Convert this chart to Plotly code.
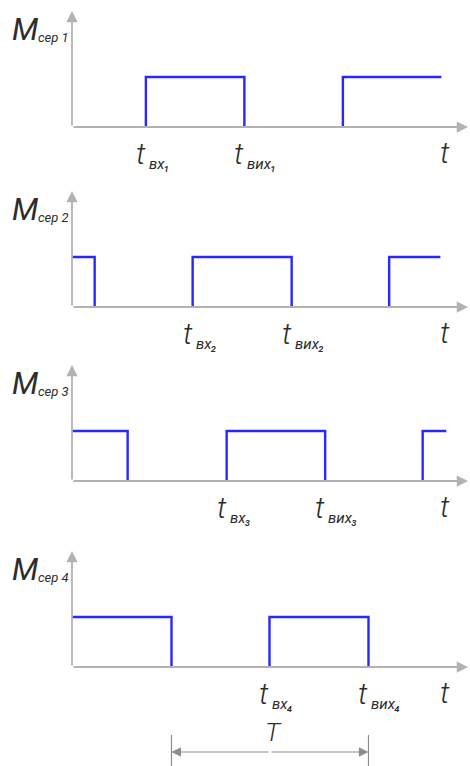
import plotly.graph_objects as go

# Time is measured in units where one period T equals 4.
# Switching instants of the four motor-torque traces M_сер,i(t).
rise_1 = [1.5, 5.5]
fall_1 = [3.5]
end_1 = 7.5

rise_2 = [2.45, 6.44]
fall_2 = [0.46, 4.46]
end_2 = 7.48

rise_3 = [3.14, 7.12]
fall_3 = [1.13, 5.14]
end_3 = 7.6

rise_4 = [4.01]
fall_4 = [2.02, 6.02]
end_4 = 7.6

channel_names = ["1", "2", "3", "4"]
in_label = "вх"      # t_вх  - switch-on instant
out_label = "вих"    # t_вих - switch-off instant
sub_digits = ["₁", "₂", "₃", "₄"]
time_label = "t"
period_label = "T"

# ---- page geometry (pixels) ----
W, H = 470, 766
X0_PX = 72.0            # where t = 0 sits
PX_PER_UNIT = 49.25     # horizontal scale
PX_PER_LEVEL = 50.0     # height of a pulse
baseline_px = [127, 307, 481, 667]
bands_px = [(0, 185), (185, 360), (360, 540), (540, H)]

AXIS_TIP_T = (W - 2 - X0_PX) / PX_PER_UNIT
AXIS_TIP_LEVEL = 2.32
T_LABEL_POS = 7.57

BLUE = "rgb(40,40,255)"
GREY = "rgb(178,178,178)"
DIM_GREY = "rgb(140,140,140)"
INK = "rgb(45,45,45)"
FONT = "Liberation Sans Narrow, Roboto, DejaVu Sans, sans-serif"


def pulse_path(rises, falls, end):
    """Outline of the high intervals: rising edge, top, falling edge."""
    edges = sorted([(t, 1) for t in rises] + [(t, 0) for t in falls])
    level = 1 if falls and (not rises or min(falls) < min(rises)) else 0
    xs, ys = [], []
    if level:
        xs.append(0.0)
        ys.append(1)
    for t, new_level in edges:
        if new_level == 1:
            xs += [t, t]
            ys += [0, 1]
        else:
            xs += [t, t, None]
            ys += [1, 0, None]
        level = new_level
    if level:
        xs.append(end)
        ys.append(1)
    return xs, ys


channels = [
    (rise_1, fall_1, end_1),
    (rise_2, fall_2, end_2),
    (rise_3, fall_3, end_3),
    (rise_4, fall_4, end_4),
]

fig = go.Figure()
annotations = []
x_range = [-X0_PX / PX_PER_UNIT, (W - X0_PX) / PX_PER_UNIT]

for i, (rises, falls, end) in enumerate(channels):
    k = "" if i == 0 else str(i + 1)
    xa, ya = "x" + k, "y" + k
    top, bottom = bands_px[i]
    base = baseline_px[i]
    y_range = [(base - bottom) / PX_PER_LEVEL, (base - top) / PX_PER_LEVEL]

    fig.update_layout({
        f"xaxis{k}": dict(domain=[0, 1], range=x_range, anchor=ya, visible=False, fixedrange=True),
        f"yaxis{k}": dict(domain=[1 - bottom / H, 1 - top / H], range=y_range,
                          anchor=xa, visible=False, fixedrange=True),
    })

    xs, ys = pulse_path(rises, falls, end)
    fig.add_trace(go.Scatter(x=xs, y=ys, xaxis=xa, yaxis=ya, mode="lines",
                             line=dict(color=BLUE, width=2.4), hoverinfo="skip"))

    # axes with arrowheads
    annotations.append(dict(x=AXIS_TIP_T, y=0, ax=0, ay=0, xref=xa, yref=ya,
                            axref=xa, ayref=ya, text="", showarrow=True,
                            arrowhead=2, arrowsize=1.25, arrowwidth=1.8, arrowcolor=GREY))
    annotations.append(dict(x=0, y=AXIS_TIP_LEVEL, ax=0, ay=0, xref=xa, yref=ya,
                            axref=xa, ayref=ya, text="", showarrow=True,
                            arrowhead=2, arrowsize=1.25, arrowwidth=1.8, arrowcolor=GREY))

    # ordinate label M_сер i
    annotations.append(dict(x=0, y=0, xref=xa, yref=ya, xshift=-47, yshift=98,
                            text="M", showarrow=False, xanchor="center", yanchor="middle",
                            font=dict(family=FONT, size=31, color=INK, style="italic")))
    annotations.append(dict(x=0, y=0, xref=xa, yref=ya, xshift=-36, yshift=90,
                            text="сер " + channel_names[i], showarrow=False,
                            xanchor="left", yanchor="middle",
                            font=dict(family=FONT, size=13, color=INK, style="italic")))

    # switching instants t_вх i and t_вих i
    t_on = rises[0]
    t_off = min(t for t in falls if t > t_on)
    for t_val, sub in ((t_on, in_label), (t_off, out_label)):
        annotations.append(dict(x=t_val, y=0, xref=xa, yref=ya, xshift=-5, yshift=-26,
                                text=time_label, showarrow=False,
                                xanchor="center", yanchor="middle",
                                font=dict(family=FONT, size=30, color=INK, style="italic",
                                          weight=300)))
        annotations.append(dict(x=t_val, y=0, xref=xa, yref=ya, xshift=1, yshift=-37,
                                text=sub + sub_digits[i], showarrow=False,
                                xanchor="left", yanchor="middle",
                                font=dict(family=FONT, size=15, color=INK, style="italic")))

    # abscissa label t
    annotations.append(dict(x=T_LABEL_POS, y=0, xref=xa, yref=ya, yshift=-25,
                            text=time_label, showarrow=False,
                            xanchor="center", yanchor="middle",
                            font=dict(family=FONT, size=30, color=INK, style="italic",
                                      weight=300)))

# period dimension between two successive switch-off instants of trace 4
p_start, p_end = fall_4[0], fall_4[1]
p_mid = (p_start + p_end) / 2
dim_y = -1.7
ext_top, ext_bottom = -1.36, (baseline_px[3] - H) / PX_PER_LEVEL
for xv in (p_start, p_end):
    fig.add_trace(go.Scatter(x=[xv, xv], y=[ext_top, ext_bottom], xaxis="x4", yaxis="y4",
                             mode="lines", line=dict(color=DIM_GREY, width=1.2),
                             hoverinfo="skip"))
    annotations.append(dict(x=xv, y=dim_y, ax=p_mid, ay=dim_y, xref="x4", yref="y4",
                            axref="x4", ayref="y4", text="", showarrow=True,
                            arrowhead=2, arrowsize=1.6, arrowwidth=1.2, arrowcolor=DIM_GREY))
annotations.append(dict(x=p_mid, y=dim_y, xref="x4", yref="y4", xshift=4, yshift=20,
                        text=period_label, showarrow=False, xanchor="center", yanchor="middle",
                        font=dict(family=FONT, size=26, color=INK, style="italic",
                                  weight=300)))

fig.update_layout(width=W, height=H, margin=dict(l=0, r=0, t=0, b=0),
                  paper_bgcolor="white", plot_bgcolor="white", showlegend=False,
                  annotations=annotations)

fig.write_html("out.html", config={"displayModeBar": False})
